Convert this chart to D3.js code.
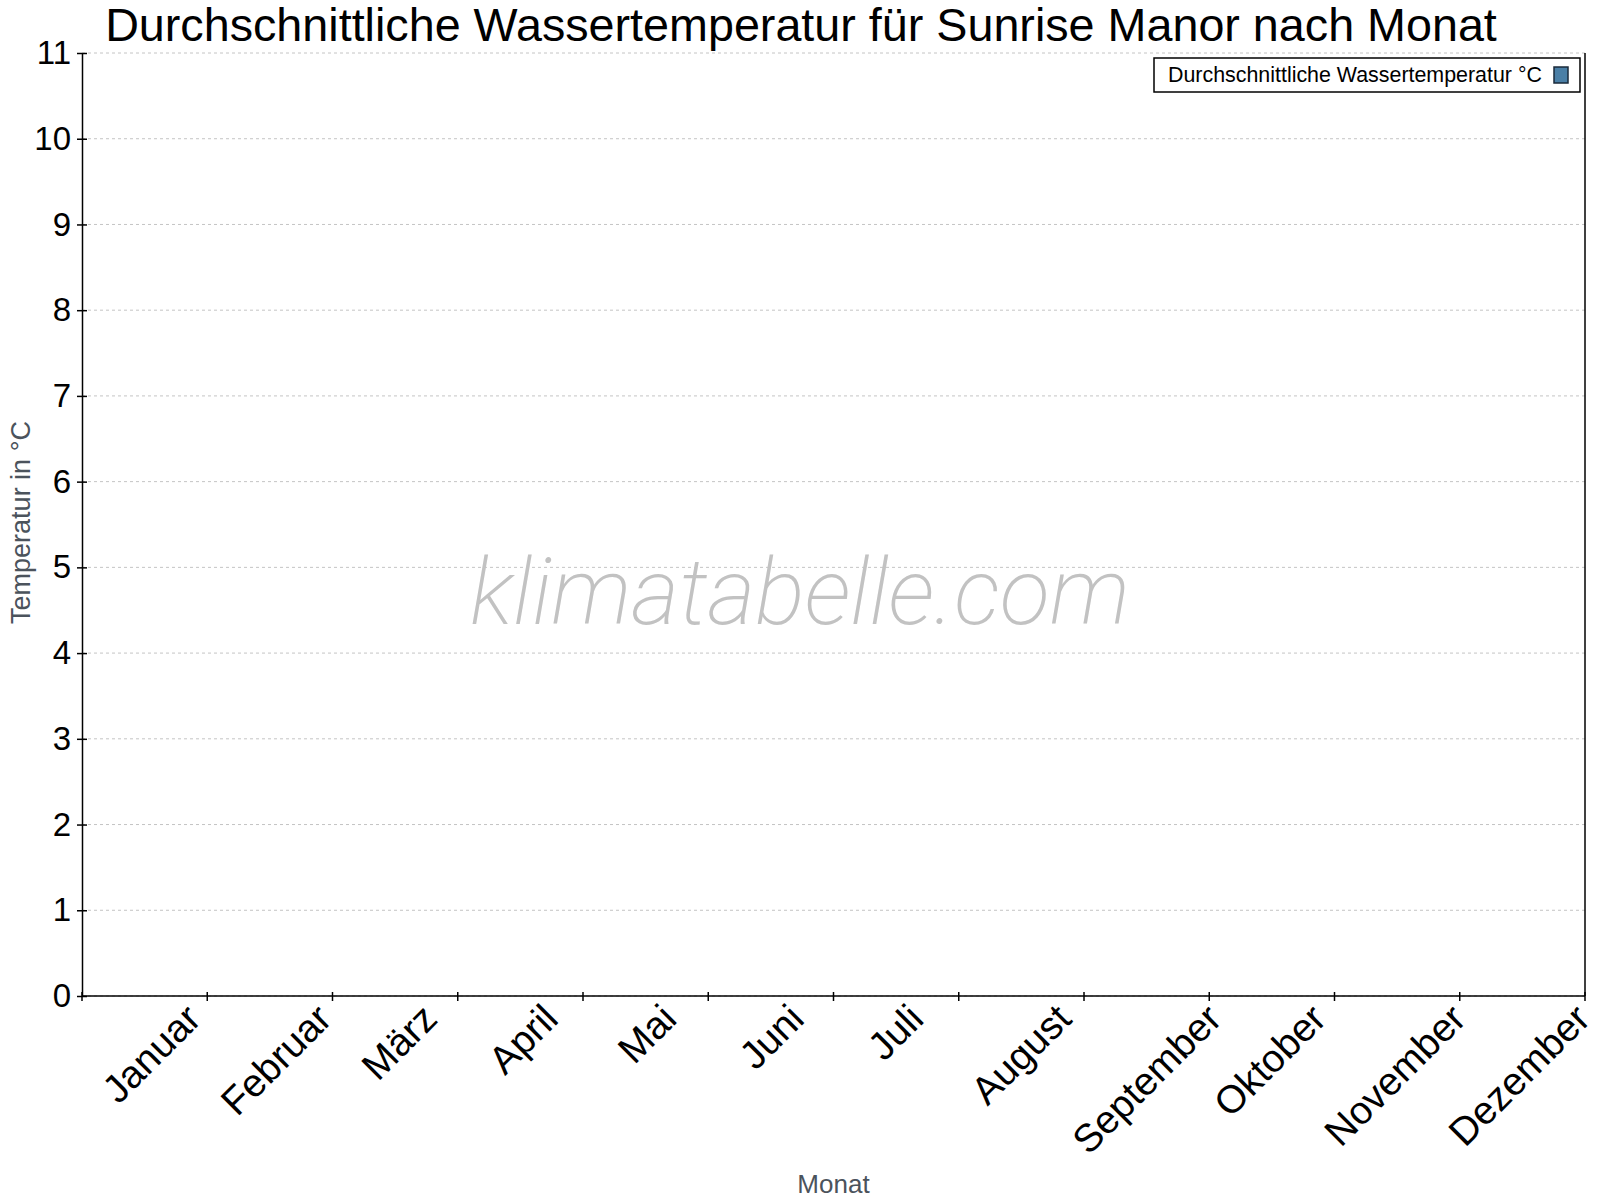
<!DOCTYPE html>
<html>
<head>
<meta charset="utf-8">
<script src="https://cdn.jsdelivr.net/npm/d3@7"></script>
<style>
  body { margin: 0; background: #fff; }
  svg { display: block; font-family: "Liberation Sans", Arial, sans-serif; }
</style>
</head>
<body>
<div id="chart"></div>
<script>
// Chart data (the reference shows no bars: every month is empty)
var months = ["Januar", "Februar", "März", "April", "Mai", "Juni",
              "Juli", "August", "September", "Oktober", "November", "Dezember"];
var waterTemp = [null, null, null, null, null, null,
                 null, null, null, null, null, null];
var yTicks = [0, 1, 2, 3, 4, 5, 6, 7, 8, 9, 10, 11];

var title      = "Durchschnittliche Wassertemperatur für Sunrise Manor nach Monat",
    seriesName = "Durchschnittliche Wassertemperatur °C",
    yTitle     = "Temperatur in °C",
    xTitle     = "Monat",
    watermark  = "klimatabelle.com";

var width  = 1600,
    height = 1200,
    margin = {top: 53, right: 15, bottom: 204, left: 82};

var svg = d3.select("#chart")
  .append("svg")
    .attr("width", width)
    .attr("height", height);

var plotW = width - margin.left - margin.right,
    plotH = height - margin.top - margin.bottom;

var x = d3.scaleBand()
  .domain(months)
  .range([0, plotW])
  .padding(0.1);

var y = d3.scaleLinear()
  .domain([0, 11])
  .range([plotH, 0]);

var g = svg.append("g")
  .attr("transform", "translate(" + margin.left + "," + margin.top + ")");

// dotted horizontal grid
g.append("g")
  .selectAll("line")
  .data(yTicks)
  .enter()
  .append("line")
    .attr("x1", 0)
    .attr("x2", plotW)
    .attr("y1", function(d) { return y(d); })
    .attr("y2", function(d) { return y(d); })
    .style("stroke", "#c4c4c4")
    .style("stroke-width", 1)
    .style("stroke-dasharray", "3,3");

// watermark
g.append("text")
  .attr("x", 718)
  .attr("y", 571)
  .attr("text-anchor", "middle")
  .style("font-family", "Roboto, sans-serif")
  .style("font-style", "italic")
  .style("font-weight", 200)
  .style("font-size", "92.5px")
  .style("fill", "#c2c2c2")
  .text(watermark);

// bars (none have values in the reference)
g.append("g")
  .selectAll("rect")
  .data(months.map(function(m, i) { return {month: m, value: waterTemp[i]}; })
              .filter(function(d) { return d.value != null; }))
  .enter()
  .append("rect")
    .attr("x", function(d) { return x(d.month); })
    .attr("width", x.bandwidth())
    .attr("y", function(d) { return y(d.value); })
    .attr("height", function(d) { return plotH - y(d.value); })
    .style("fill", "#4a7fa6");

// y axis
var yAxis = g.append("g")
  .call(d3.axisLeft(y).tickValues(yTicks).tickSize(5).tickSizeOuter(0).tickPadding(6));
yAxis.select(".domain").style("stroke", "#000").style("stroke-width", 1.5);
yAxis.selectAll(".tick line").attr("x1", 5).style("stroke", "#000").style("stroke-width", 1.5);
yAxis.selectAll(".tick text")
  .style("font-size", "33px")
  .style("font-family", "'Liberation Sans', Arial, sans-serif")
  .style("fill", "#000");

// x axis: ticks sit on the band boundaries
var bounds = d3.range(months.length + 1).map(function(i) { return i * plotW / months.length; });
var xAxis = g.append("g").attr("transform", "translate(0," + plotH + ")");
xAxis.append("line")
  .attr("x1", 0).attr("x2", plotW)
  .style("stroke", "#000").style("stroke-width", 1.5);
xAxis.selectAll(".xtick")
  .data(bounds)
  .enter()
  .append("line")
    .attr("class", "xtick")
    .attr("x1", function(d) { return d; })
    .attr("x2", function(d) { return d; })
    .attr("y1", -4)
    .attr("y2", 5)
    .style("stroke", "#000").style("stroke-width", 1.5);

xAxis.selectAll(".xlabel")
  .data(months)
  .enter()
  .append("text")
    .attr("class", "xlabel")
    .attr("text-anchor", "end")
    .style("font-size", "39px")
    .style("fill", "#000")
    .text(function(d) { return d; })
    .attr("transform", function(d) {
      var len = this.getComputedTextLength();
      var cx = x(d) + x.bandwidth() / 2;
      return "translate(" + (cx + 0.375 * len + 8) + ",25) rotate(-45)";
    });

// right frame line
g.append("line")
  .attr("x1", plotW).attr("x2", plotW)
  .attr("y1", 0).attr("y2", plotH)
  .style("stroke", "#000").style("stroke-width", 1.5);

// title
svg.append("text")
  .attr("x", 801)
  .attr("y", 41)
  .attr("text-anchor", "middle")
  .style("font-size", "46.7px")
  .style("fill", "#000")
  .text(title);

// axis titles
svg.append("text")
  .attr("transform", "translate(30," + (margin.top + plotH / 2 - 2) + ") rotate(-90)")
  .attr("text-anchor", "middle")
  .style("font-size", "27px")
  .style("fill", "#4b535c")
  .text(yTitle);

svg.append("text")
  .attr("x", margin.left + plotW / 2)
  .attr("y", 1193)
  .attr("text-anchor", "middle")
  .style("font-size", "26px")
  .style("fill", "#4b535c")
  .text(xTitle);

// legend
var legend = svg.append("g").attr("transform", "translate(1154,58)");
legend.append("rect")
  .attr("width", 426)
  .attr("height", 34)
  .style("fill", "#fff")
  .style("stroke", "#000")
  .style("stroke-width", 1.5);
legend.append("text")
  .attr("x", 14)
  .attr("y", 24)
  .style("font-size", "21.4px")
  .style("fill", "#000")
  .text(seriesName);
legend.append("rect")
  .attr("x", 400)
  .attr("y", 9)
  .attr("width", 14)
  .attr("height", 16)
  .style("fill", "#4a7fa6")
  .style("stroke", "#1a2a3a")
  .style("stroke-width", 1.5);
</script>
</body>
</html>
